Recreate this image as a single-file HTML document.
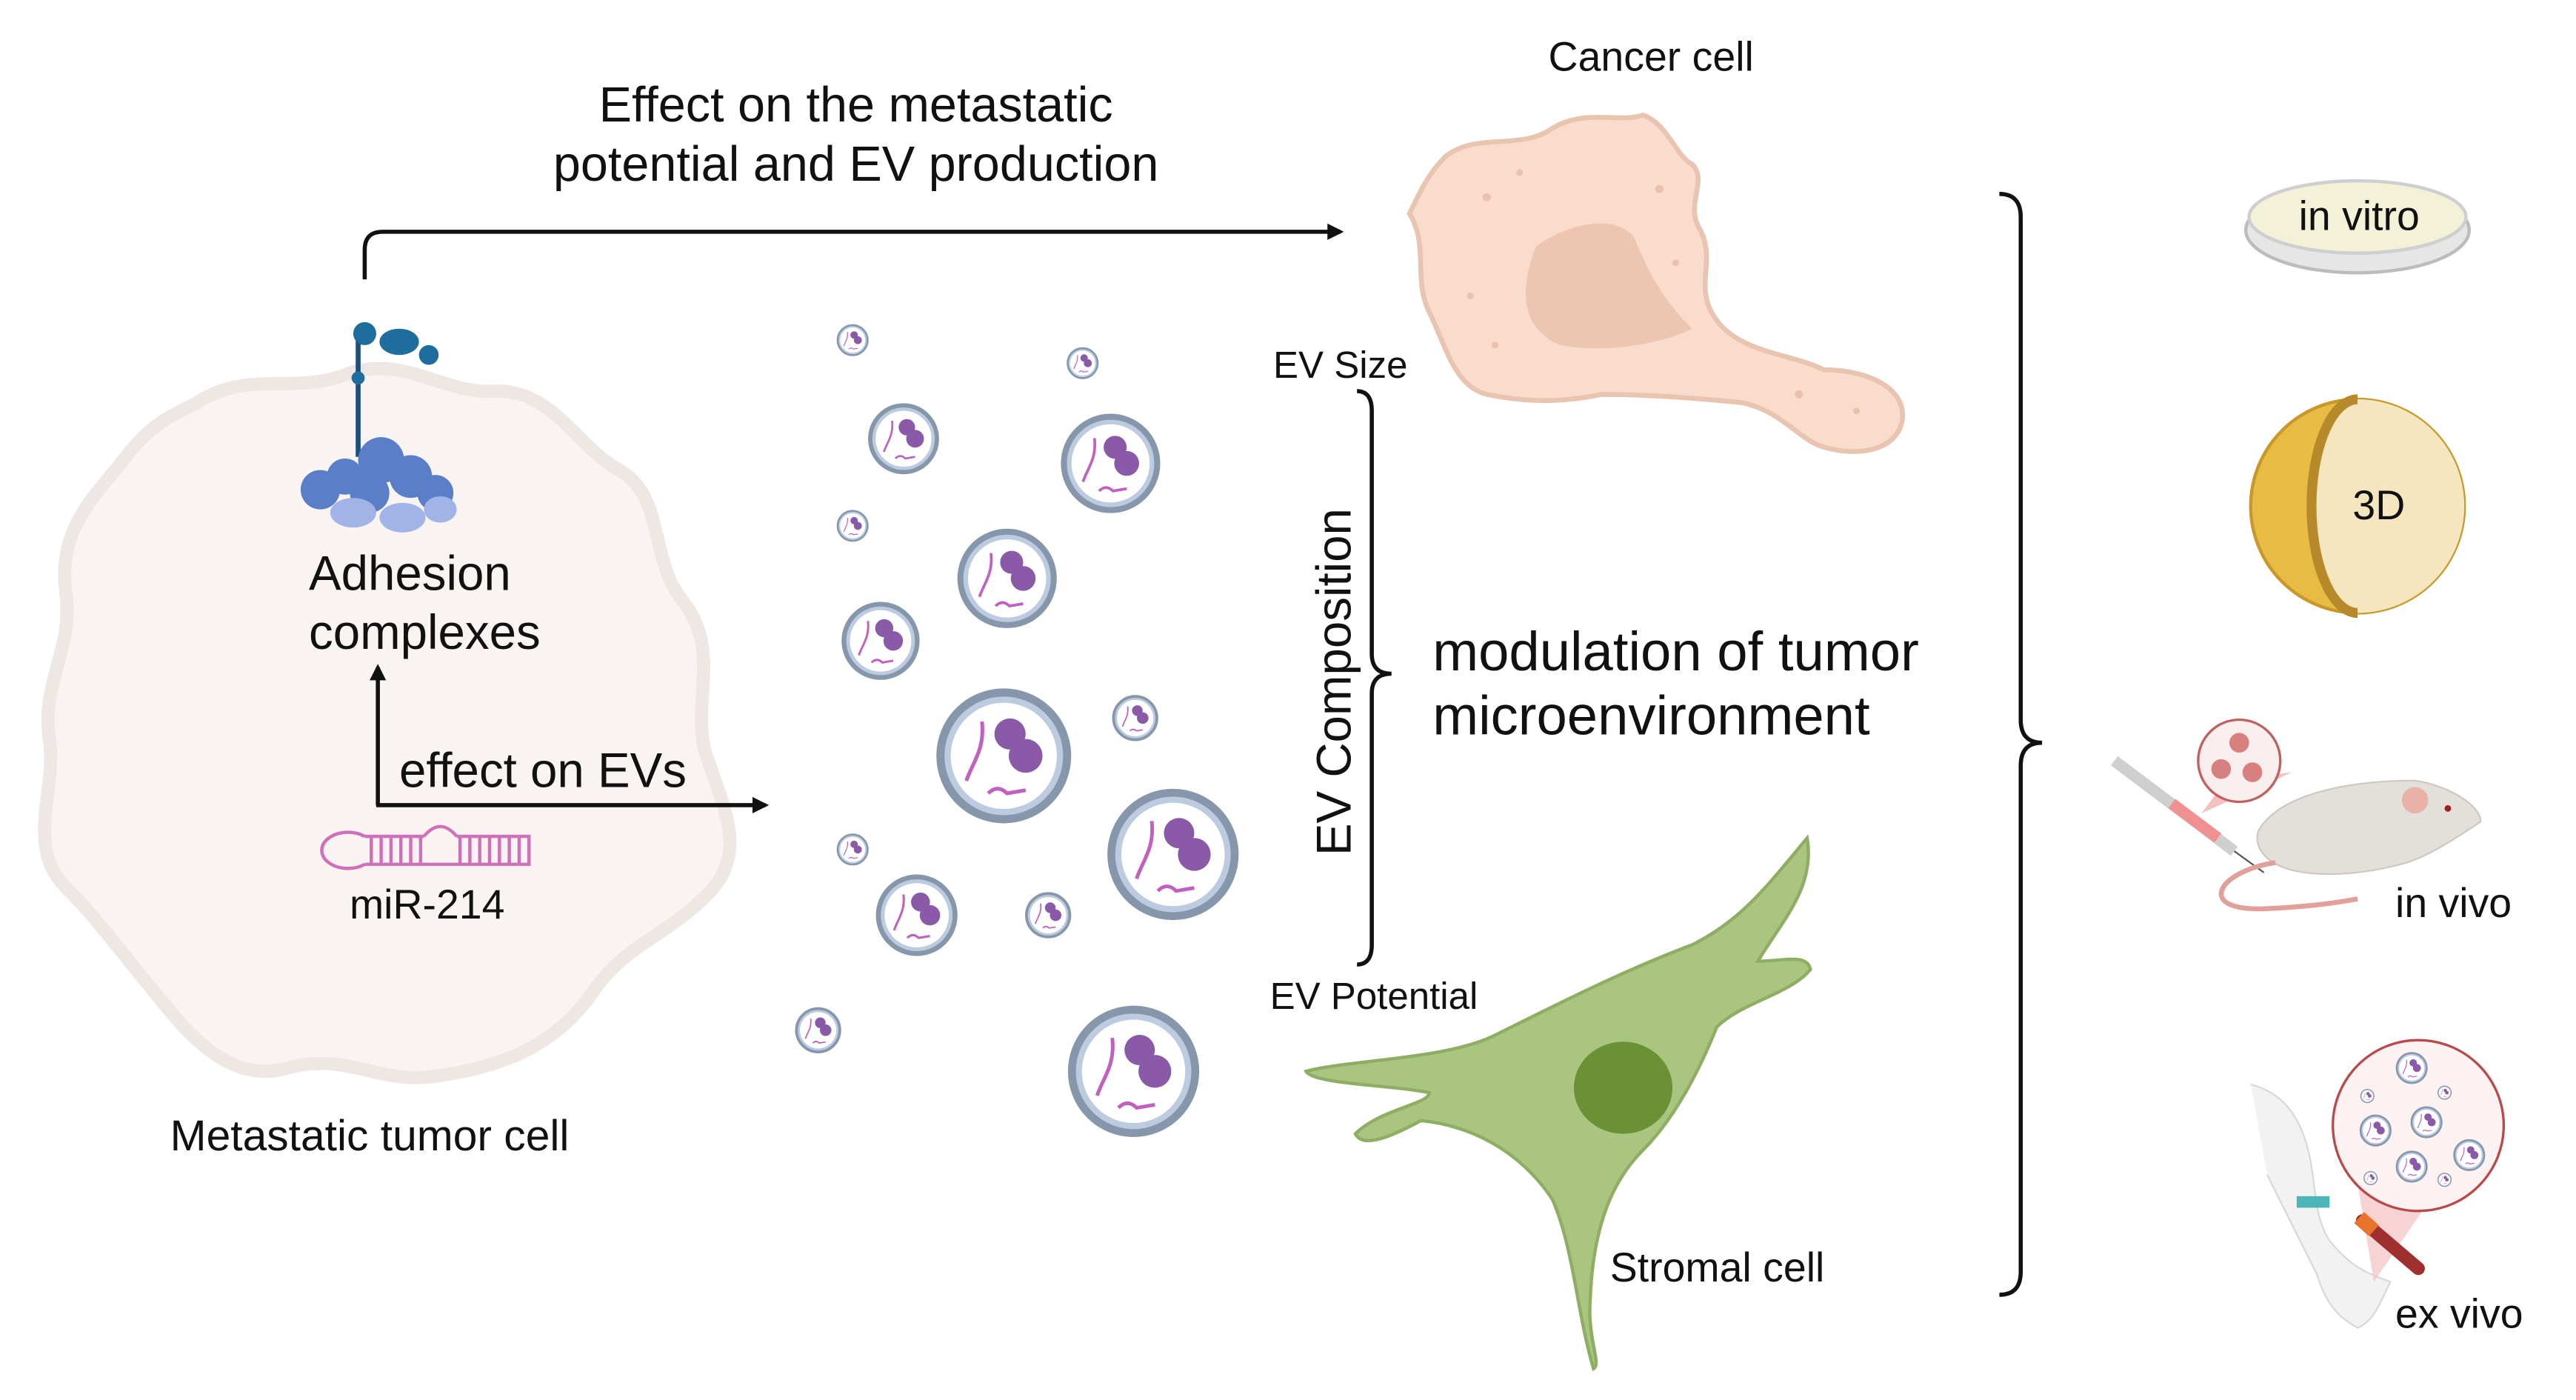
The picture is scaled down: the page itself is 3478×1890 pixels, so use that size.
<!DOCTYPE html>
<html><head><meta charset="utf-8"><style>
html,body{margin:0;padding:0;background:#fff;}
svg{display:block;}
text{font-family:"Liberation Sans",sans-serif;fill:#111;}
</style></head><body>
<svg width="3478" height="1890" viewBox="0 0 1568 852" xmlns="http://www.w3.org/2000/svg">
<defs>
<marker id="ah" markerWidth="10" markerHeight="10" refX="8" refY="5" orient="auto" markerUnits="userSpaceOnUse">
<path d="M0,0 L10,5 L0,10 z" fill="#111"/></marker>
<g id="ev">
<circle r="1" fill="#fff" stroke="#8797ab" stroke-width="0.16"/>
<circle r="0.9" fill="none" stroke="#bccbe0" stroke-width="0.1"/>
<path d="M-0.35,-0.55 C-0.3,-0.1 -0.5,0.1 -0.6,0.4" fill="none" stroke="#c060c0" stroke-width="0.06"/>
<circle cx="0.1" cy="-0.35" r="0.25" fill="#8a5aa8"/>
<circle cx="0.35" cy="0.0" r="0.27" fill="#8a5aa8"/>
<path d="M-0.25,0.6 q0.15,-0.15 0.3,0 l0.3,-0.05" fill="none" stroke="#c060c0" stroke-width="0.06"/>
</g>
</defs>

<path d="M120,245 C150,225 180,240 210,228 C245,215 270,240 300,238 C335,236 350,270 375,285 C405,300 395,340 415,365 C440,395 420,430 430,460 C442,495 455,520 430,545 C405,570 380,575 360,605 C335,640 300,650 265,655 C230,660 210,640 175,650 C140,660 115,630 95,605 C70,575 60,560 40,540 C15,515 35,480 30,450 C25,415 45,395 40,360 C35,320 60,300 75,280 C90,260 100,255 120,245 Z" fill="#f9f4f2" stroke="#eee7e3" stroke-width="8"/>
<text x="225" y="700" font-size="26.5" text-anchor="middle">Metastatic tumor cell</text>

<path d="M222,170 L222,152 Q222,141 233,141 L816,141" fill="none" stroke="#111" stroke-width="2.5" marker-end="url(#ah)"/>
<text x="521" y="74" font-size="30" text-anchor="middle">Effect on the metastatic</text>
<text x="521" y="110" font-size="30" text-anchor="middle">potential and EV production</text>

<line x1="218" y1="205" x2="218" y2="278" stroke="#1e4f7a" stroke-width="3"/>
<circle cx="222" cy="203" r="7" fill="#1f6d9c"/>
<ellipse cx="243" cy="208" rx="12" ry="8" fill="#1f6d9c"/>
<circle cx="261" cy="216" r="6" fill="#1f6d9c"/>
<circle cx="218" cy="230" r="4" fill="#1f6d9c"/>
<g fill="#5b7ec8">
<circle cx="195" cy="298" r="12"/><circle cx="210" cy="290" r="11"/><circle cx="232" cy="280" r="14"/>
<circle cx="250" cy="290" r="13"/><circle cx="265" cy="300" r="11"/><circle cx="225" cy="300" r="12"/>
</g>
<g fill="#a0b4e8"><ellipse cx="215" cy="312" rx="14" ry="9"/><ellipse cx="245" cy="315" rx="14" ry="9"/><ellipse cx="268" cy="310" rx="10" ry="8"/></g>
<text x="188" y="359" font-size="29.5">Adhesion</text>
<text x="188" y="395" font-size="29.5">complexes</text>

<line x1="230" y1="490" x2="230" y2="406" stroke="#111" stroke-width="2.5" marker-end="url(#ah)"/>
<line x1="229" y1="490" x2="466" y2="490" stroke="#111" stroke-width="2.5" marker-end="url(#ah)"/>
<text x="243" y="479" font-size="29.5">effect on EVs</text>

<g stroke="#d070b8" stroke-width="2" fill="none">
<path d="M222,509 A16,11 0 1 0 222,526"/>
<line x1="222" y1="509" x2="258" y2="509"/><line x1="222" y1="526" x2="323" y2="526"/>
<path d="M258,509 q10,-12 20,0"/><line x1="278" y1="509" x2="323" y2="509"/>
<path d="M226,509 v17 M232,509 v17 M238,509 v17 M244,509 v17 M250,509 v17 M256,509 v17 M280,509 v17 M286,509 v17 M292,509 v17 M298,509 v17 M304,509 v17 M310,509 v17 M316,509 v17 M322,509 v17"/>
</g>
<text x="260" y="559" font-size="25" text-anchor="middle">miR-214</text>

<use href="#ev" transform="translate(611,460) scale(38)"/>
<use href="#ev" transform="translate(714,520) scale(37)"/>
<use href="#ev" transform="translate(690,652) scale(37)"/>
<use href="#ev" transform="translate(676,282) scale(28)"/>
<use href="#ev" transform="translate(613,352) scale(28)"/>
<use href="#ev" transform="translate(550,267) scale(20)"/>
<use href="#ev" transform="translate(536,390) scale(22)"/>
<use href="#ev" transform="translate(558,557) scale(23)"/>
<use href="#ev" transform="translate(519,207) scale(9)"/>
<use href="#ev" transform="translate(659,221) scale(9)"/>
<use href="#ev" transform="translate(519,320) scale(9)"/>
<use href="#ev" transform="translate(691,437) scale(13)"/>
<use href="#ev" transform="translate(519,517) scale(9)"/>
<use href="#ev" transform="translate(638,557) scale(13)"/>
<use href="#ev" transform="translate(498,627) scale(13)"/>

<path d="M880,95 C900,80 925,92 945,78 C965,66 985,75 1000,70 C1015,75 1020,95 1030,100 C1040,110 1025,125 1035,140 C1045,160 1030,175 1045,195 C1060,215 1090,215 1110,225 C1135,225 1160,235 1158,255 C1155,275 1130,278 1110,272 C1095,268 1085,250 1060,245 C1030,242 1000,240 975,240 C950,245 930,245 905,240 C885,235 880,210 870,190 C860,170 870,150 858,130 C865,115 870,105 880,95 Z" fill="#f9dccc" stroke="#e9c4b0" stroke-width="3"/>
<path d="M935,150 C955,135 985,130 995,145 C1005,170 1015,185 1030,200 C1010,210 975,215 950,210 C925,200 925,175 935,150 Z" fill="#edc6b2"/>
<g fill="#ebc0ac"><circle cx="905" cy="120" r="2.5"/><circle cx="925" cy="105" r="2"/><circle cx="1010" cy="115" r="2.5"/><circle cx="895" cy="180" r="2"/><circle cx="1020" cy="160" r="2"/><circle cx="1095" cy="240" r="2.5"/><circle cx="1130" cy="250" r="2"/><circle cx="910" cy="210" r="2"/></g>
<text x="1005" y="43" font-size="25" text-anchor="middle">Cancer cell</text>

<path d="M826,238 Q835,238 835,250 L835,398 Q835,410 847,410 Q835,410 835,422 L835,575 Q835,587 826,587" fill="none" stroke="#111" stroke-width="2.5"/>
<text x="775" y="230" font-size="23">EV Size</text>
<text x="773" y="614" font-size="23">EV Potential</text>
<text transform="translate(822,415) rotate(-90)" font-size="29.5" text-anchor="middle">EV Composition</text>
<text x="872" y="408" font-size="33.5">modulation of tumor</text>
<text x="872" y="447" font-size="33.5">microenvironment</text>

<path d="M1100,510 C1105,540 1085,560 1070,585 C1085,585 1100,580 1102,590 C1090,605 1060,610 1045,625 C1035,650 1020,680 1000,700 C985,715 970,740 968,790 C966,815 975,830 970,833 C960,800 958,760 945,730 C925,700 895,685 865,682 C850,690 830,700 825,690 C840,675 870,672 870,665 C845,660 800,660 795,652 C820,645 880,645 910,630 C950,610 990,590 1030,575 C1060,560 1075,540 1100,510 Z" fill="#a9c57f" stroke="#8eae63" stroke-width="2"/>
<ellipse cx="988" cy="662" rx="30" ry="28" fill="#6a9235"/>
<text x="980" y="780" font-size="25">Stromal cell</text>

<path d="M1217,118 Q1230,118 1230,132 L1230,438 Q1230,452 1243,452 Q1230,452 1230,466 L1230,774 Q1230,788 1217,788" fill="none" stroke="#111" stroke-width="2.5"/>

<ellipse cx="1435" cy="140" rx="68" ry="26" fill="#e6e6e6" stroke="#bcbcbc" stroke-width="2"/>
<ellipse cx="1435" cy="132" rx="66" ry="22" fill="#f3f1d8" stroke="#cfcfcf" stroke-width="2"/>
<text x="1436" y="140" font-size="25" text-anchor="middle">in vitro</text>

<circle cx="1435" cy="308" r="65" fill="#e8bc44" stroke="#c9982a" stroke-width="2"/>
<path d="M1435,243 A65,65 0 0 1 1435,373 A28,65 0 0 1 1435,243 Z" fill="#f5e6c0"/>
<path d="M1435,243 A28,65 0 0 0 1435,373" fill="none" stroke="#b68a2a" stroke-width="6"/>
<text x="1448" y="316" font-size="25" text-anchor="middle">3D</text>

<line x1="1287" y1="463" x2="1360" y2="518" stroke="#cfcfcf" stroke-width="7"/>
<line x1="1322" y1="489" x2="1350" y2="510" stroke="#f09090" stroke-width="7"/>
<line x1="1360" y1="518" x2="1378" y2="531" stroke="#555" stroke-width="1"/>
<polygon points="1340,495 1355,475 1395,470" fill="#f7c0c0"/>
<circle cx="1363" cy="463" r="25" fill="#f8eeee" stroke="#c06060" stroke-width="1.5"/>
<circle cx="1363" cy="452" r="6" fill="#d88080"/><circle cx="1352" cy="468" r="6" fill="#d88080"/><circle cx="1371" cy="470" r="6" fill="#d88080"/>
<path d="M1375,505 C1390,480 1440,475 1470,475 C1490,478 1510,490 1510,500 C1495,510 1480,520 1465,525 C1440,532 1410,535 1390,528 C1375,522 1372,512 1375,505 Z" fill="#e3dfdb" stroke="#cfc8c0" stroke-width="1"/>
<ellipse cx="1470" cy="487" rx="8" ry="8" fill="#e9b2a8"/>
<circle cx="1490" cy="492" r="2" fill="#a02020"/>
<path d="M1385,525 C1350,530 1335,555 1380,553 C1400,552 1420,550 1435,547" fill="none" stroke="#e2a09a" stroke-width="3"/>
<text x="1458" y="558" font-size="25">in vivo</text>

<path d="M1370,660 C1390,665 1400,680 1405,700 C1410,720 1408,740 1418,755 C1430,770 1440,775 1455,780 C1450,790 1445,805 1435,808 C1420,800 1415,790 1410,775 C1400,755 1390,735 1380,715" fill="#f2f2f2" stroke="#d8d8d8" stroke-width="1"/>
<rect x="1398" y="728" width="20" height="7" fill="#4cb6b6"/>
<polygon points="1445,780 1510,685 1430,690" fill="#f4c0c0" opacity="0.7"/>
<line x1="1438" y1="743" x2="1472" y2="772" stroke="#a03030" stroke-width="8" stroke-linecap="round"/>
<line x1="1436" y1="741" x2="1445" y2="749" stroke="#e8732a" stroke-width="9"/>
<circle cx="1472" cy="685" r="52" fill="#fdf2f2" stroke="#b84a4a" stroke-width="1.5"/>
<use href="#ev" transform="translate(1468,650) scale(9)"/>
<use href="#ev" transform="translate(1446,688) scale(9)"/>
<use href="#ev" transform="translate(1477,683) scale(9)"/>
<use href="#ev" transform="translate(1468,710) scale(9)"/>
<use href="#ev" transform="translate(1503,703) scale(9)"/>
<use href="#ev" transform="translate(1441,667) scale(4)"/>
<use href="#ev" transform="translate(1488,665) scale(4)"/>
<use href="#ev" transform="translate(1443,717) scale(4)"/>
<use href="#ev" transform="translate(1488,718) scale(4)"/>
<text x="1458" y="808" font-size="25">ex vivo</text>
</svg>
</body></html>
